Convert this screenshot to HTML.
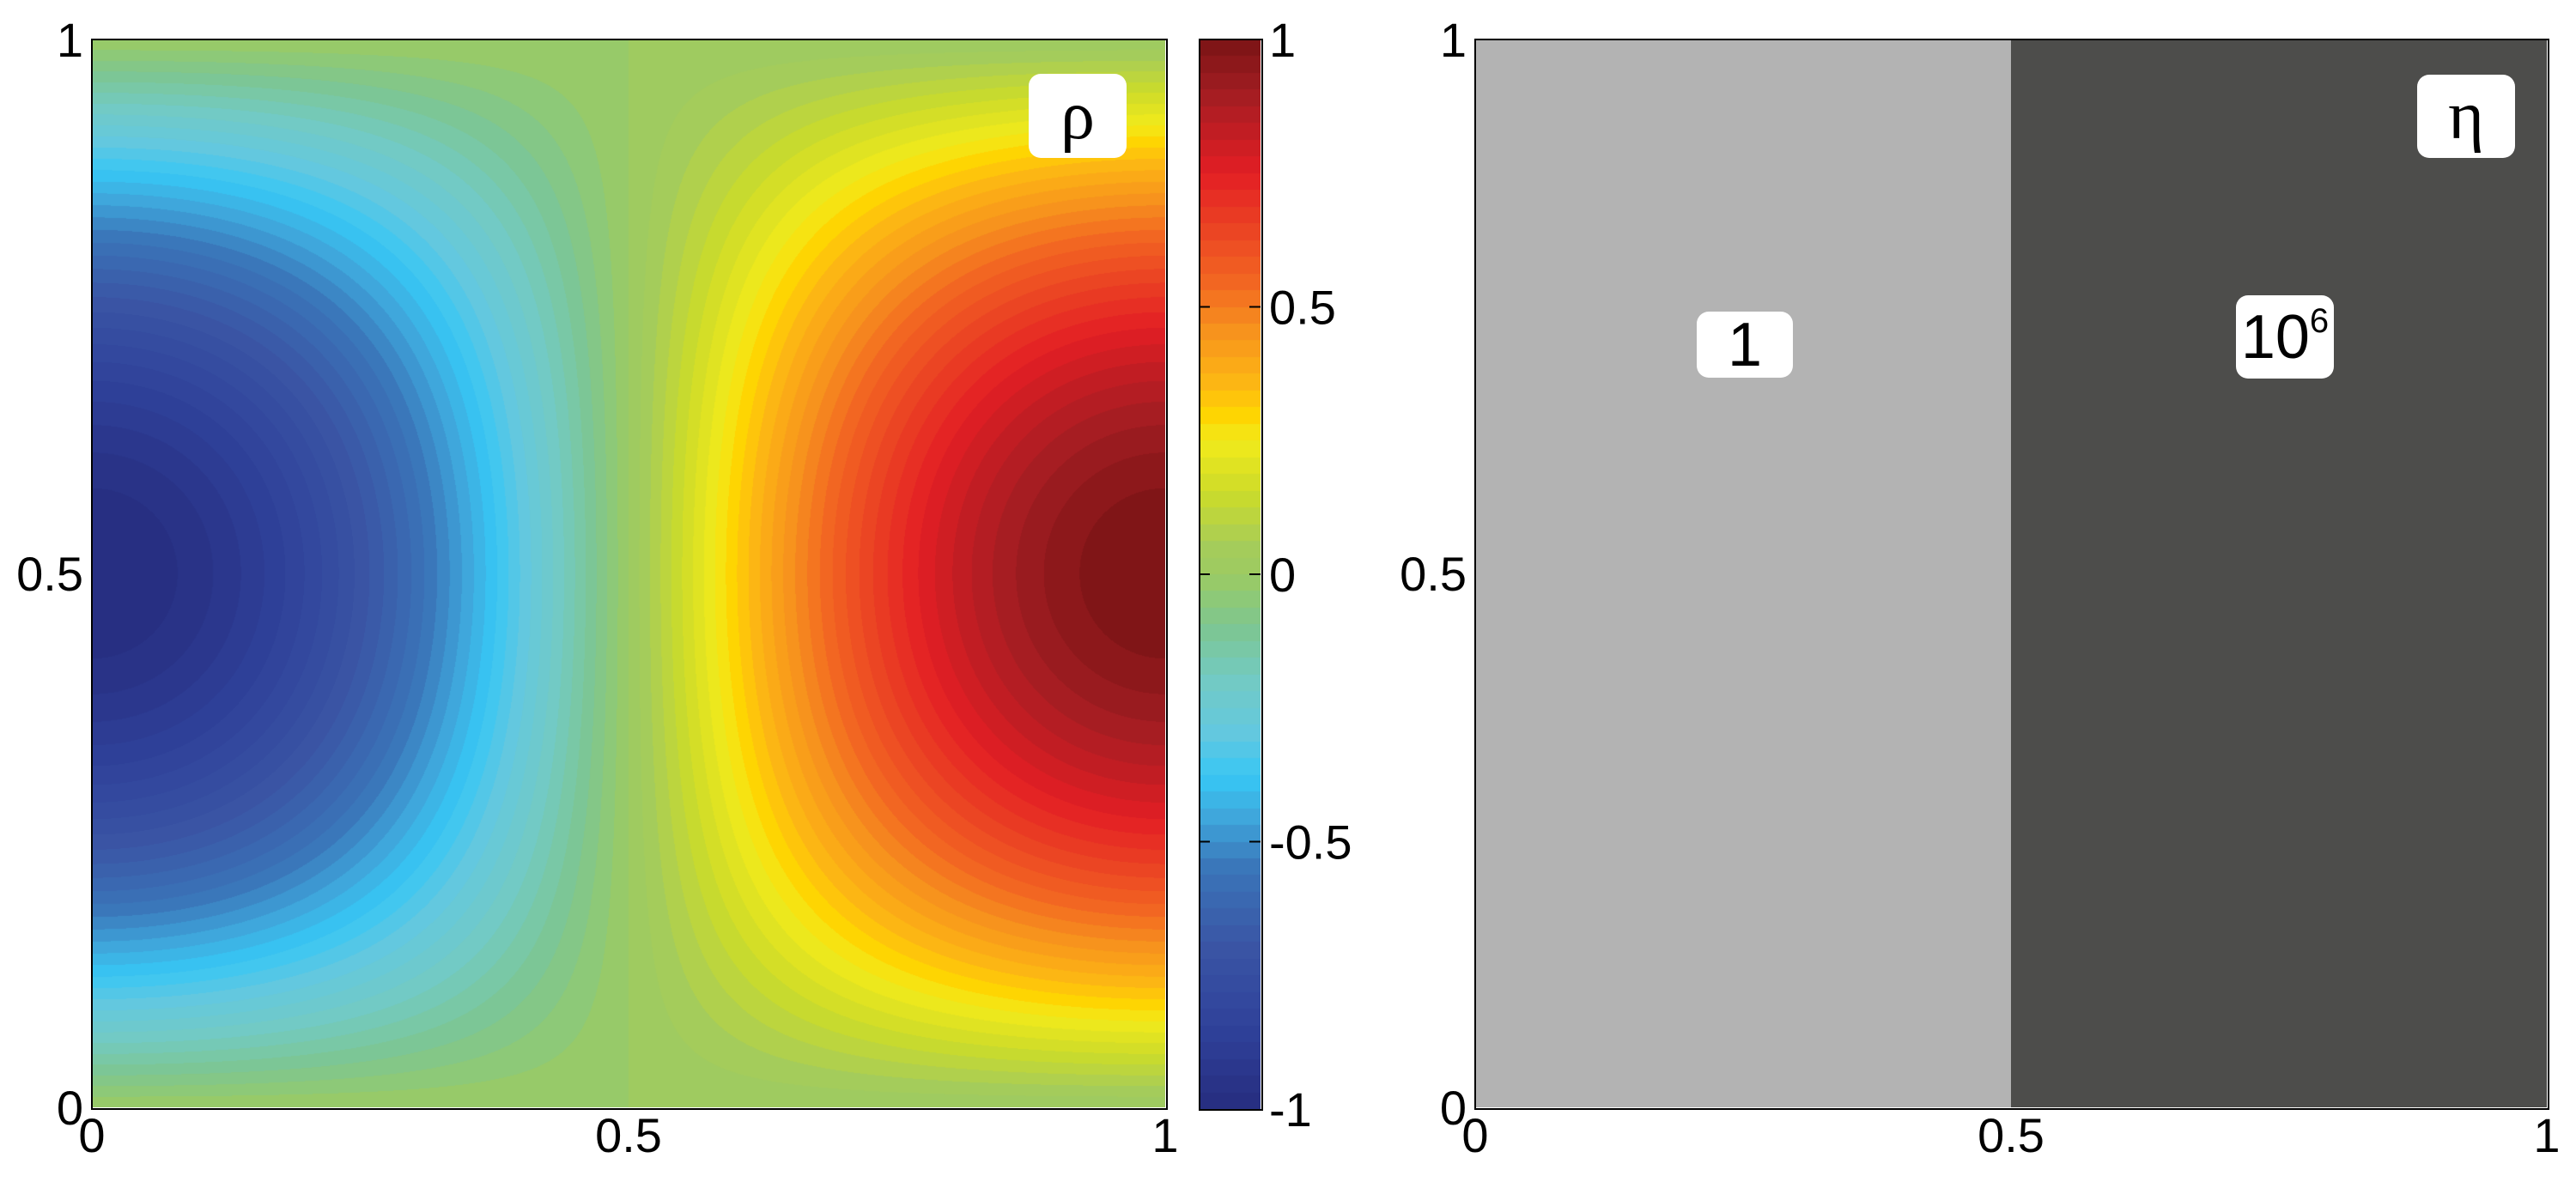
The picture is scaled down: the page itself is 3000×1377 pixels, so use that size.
<!DOCTYPE html>
<html><head><meta charset="utf-8">
<style>
body{margin:0;background:#fff;width:3000px;height:1377px;overflow:hidden;position:relative;font-family:"Liberation Sans",Arial,sans-serif}
.box{position:absolute;background:#fff;border-radius:14px;display:flex;align-items:center;justify-content:center;color:#000}
</style></head><body>
<canvas id="rho" width="1250" height="1244" style="position:absolute;left:107px;top:46px;width:1250px;height:1244px"></canvas>
<div style="position:absolute;left:106px;top:45px;width:1250px;height:1244px;border:2px solid #000"></div>
<canvas id="cbar" width="71" height="1246" style="position:absolute;left:1397px;top:46px;width:71px;height:1246px"></canvas>
<div style="position:absolute;left:1396px;top:45px;width:71px;height:1245px;border:2px solid #000"></div>
<svg id="ov" width="3000" height="1377" style="position:absolute;left:0;top:0"></svg>

<div class="box" style="left:1198px;top:86px;width:114px;height:98px;font-family:'Liberation Serif',serif;font-size:80px">ρ</div>

<div style="position:absolute;left:1718px;top:46px;width:624px;height:1244px;background:#b3b3b3"></div>
<div style="position:absolute;left:2342px;top:46px;width:624px;height:1244px;background:#4d4d4b"></div>
<div style="position:absolute;left:1717px;top:45px;width:1248px;height:1244px;border:2px solid #000"></div>
<div class="box" style="left:2815px;top:87px;width:114px;height:97px;font-family:'Liberation Serif',serif;font-size:80px">η</div>
<div class="box" style="left:1976px;top:363px;width:112px;height:77px;font-size:72px">1</div>
<div class="box" style="left:2604px;top:344px;width:114px;height:97px;font-size:72px">10<sup style="font-size:40px;vertical-align:0;position:relative;top:-18px">6</sup></div>

<script>
// colormap stops (value, color)
const cmapValues=[-1,-0.85,-0.7,-0.55,-0.45,-0.38,-0.3,-0.2,-0.1,0,0.05,0.15,0.25,0.3,0.35,0.45,0.55,0.75,0.9,1];
const cmapColors=['#262d7f','#2f419a','#3a54a4','#3a75b9','#3fa9dd','#37c6f4','#62c8e0','#72cac4','#7dc691','#9ccb62','#a5cc5a','#cbdb2a','#f2ea1a','#ffd400','#fdb913','#f7941d','#f26522','#e31e24','#a21d22','#7a1315'];
const levels=64;
const colorTicks=[-1,-0.5,0,0.5,1];
const colorTickLabels=['-1','-0.5','0','0.5','1'];
const axisTicks=[0,0.5,1];
const axisTickLabels=['0','0.5','1'];

function hex(c){return [parseInt(c.substr(1,2),16),parseInt(c.substr(3,2),16),parseInt(c.substr(5,2),16)];}
const stops=cmapColors.map(hex);
function cmap(v){
  v=Math.max(-1,Math.min(1,v));
  let q=Math.min(levels-1,Math.floor((v+1)/2*levels));
  let vq=-1+(q+0.5)*2/levels;
  let i=0;while(i<cmapValues.length-2&&vq>cmapValues[i+1])i++;
  let t=(vq-cmapValues[i])/(cmapValues[i+1]-cmapValues[i]);
  return stops[i].map((a,k)=>Math.round(a+(stops[i+1][k]-a)*t));
}
// rho field (SolCx density)
function rho(x,y){return -Math.cos(Math.PI*x)*Math.sin(Math.PI*y);}
(function(){
  const c=document.getElementById('rho'),ctx=c.getContext('2d');
  const W=c.width,H=c.height,img=ctx.createImageData(W,H);
  for(let j=0;j<H;j++){const y=1-(j+0.5)/H;for(let i=0;i<W;i++){const x=(i+0.5)/W;const col=cmap(rho(x,y));const p=(j*W+i)*4;img.data[p]=col[0];img.data[p+1]=col[1];img.data[p+2]=col[2];img.data[p+3]=255;}}
  ctx.putImageData(img,0,0);
  const cb=document.getElementById('cbar'),cx=cb.getContext('2d');
  for(let j=0;j<cb.height;j++){const v=1-2*(j+0.5)/cb.height;const col=cmap(v);cx.fillStyle='rgb('+col+')';cx.fillRect(0,j,cb.width,1);}
})();
const ns='http://www.w3.org/2000/svg',ov=document.getElementById('ov');
function txt(x,y,s,anchor,name){const t=document.createElementNS(ns,'text');t.setAttribute('x',x);t.setAttribute('y',y);t.setAttribute('text-anchor',anchor);t.setAttribute('font-size','56');t.setAttribute('font-family','Liberation Sans, Arial, sans-serif');t.textContent=s;


ov.appendChild(t);}
function line(x1,y1,x2,y2,name){const l=document.createElementNS(ns,'line');l.setAttribute('x1',x1);l.setAttribute('y1',y1);l.setAttribute('x2',x2);l.setAttribute('y2',y2);l.setAttribute('stroke','#000');l.setAttribute('stroke-width','2');


ov.appendChild(l);}
function plotAxes(x0,x1,y0,y1,prefix){
  const sx=v=>x0+v*(x1-x0), sy=v=>y1-v*(y1-y0);
  axisTicks.forEach((v,i)=>{
    txt(sx(v),y1+52,axisTickLabels[i],'middle',prefix+'-x-tick-label');
    txt(x0-10,sy(v)+20,axisTickLabels[i],'end',prefix+'-y-tick-label');
  });
}
plotAxes(107,1357,46,1290,'rho');
plotAxes(1718,2966,46,1290,'eta');
const cy=v=>1292-(v+1)/2*(1292-46);
colorTicks.forEach((v,i)=>{
  if(v>-1&&v<1){line(1397,cy(v),1409,cy(v),'colorbar-tick');line(1455,cy(v),1468,cy(v),'colorbar-tick');}
  txt(1478,cy(v)+20,colorTickLabels[i],'start','colorbar-tick-label');
});
</script>
</body></html>
